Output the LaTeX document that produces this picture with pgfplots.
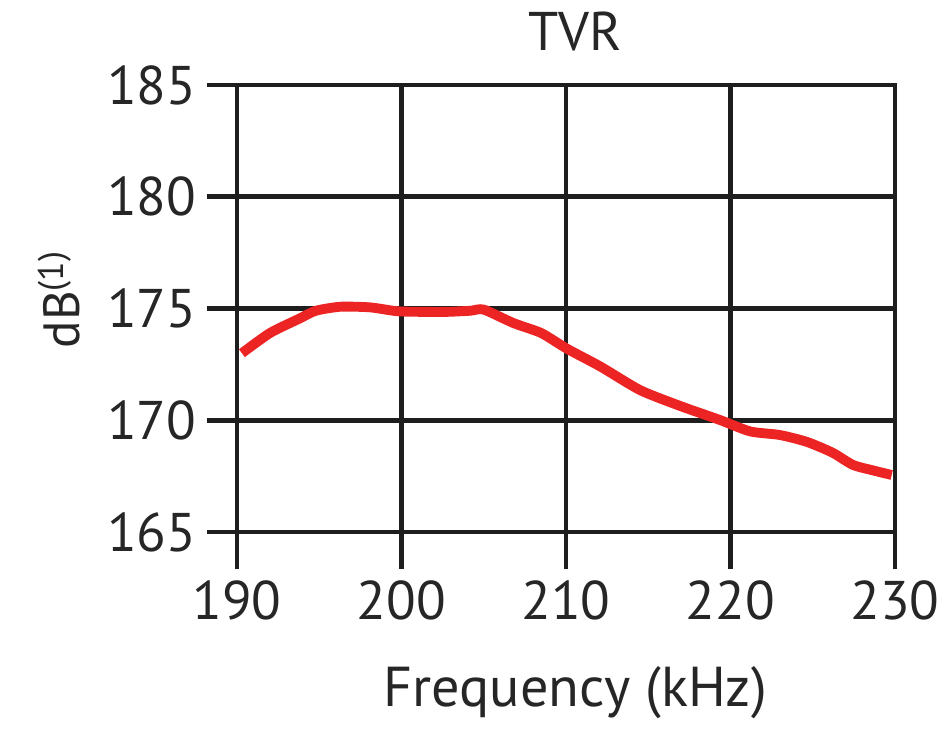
\documentclass[border=0pt]{standalone}
\usepackage{pgfplots}
\pgfplotsset{compat=1.18}
\usepackage{fontspec}
\setmainfont{PT Sans}
\definecolor{curvered}{HTML}{EC2424}
\definecolor{gridgray}{HTML}{1E1E1E}
\begin{document}
\begin{tikzpicture}
\path[use as bounding box] (-4.74cm,-4.08cm) rectangle (14.24cm,10.64cm);
\begin{axis}[
  at={(0,0)}, anchor=south west,
  width=13.16cm, height=8.94cm, scale only axis,
  xmin=190, xmax=230, ymin=165, ymax=185,
  xtick={190,200,210,220,230}, ytick={165,170,175,180,185},
  tick pos=left,
  grid=major,
  major grid style={line width=2.6pt, color=gridgray},
  axis line style={line width=2.6pt, color=gridgray},
  tick align=outside,
  major tick length=0.74cm,
  xtick style={line width=2.6pt, color=gridgray},
  ytick style={line width=2.6pt, color=gridgray, xshift=0.14cm},
  /pgf/number format/assume math mode=true,
  /pgf/number format/set thousands separator={},
  ticklabel style={font=\fontsize{31}{34}\selectfont, text=black!85},
  xticklabel style={yshift=-0.12cm},
  yticklabel style={xshift=0.05cm},
  title={TVR},
  title style={at={(axis description cs:0.514,1.095)}, anchor=center, font=\fontsize{31}{34}\selectfont, text=black!85},
  xlabel={Frequency (kHz)},
  ylabel={dB\textsuperscript{(1)}},
  every axis x label/.style={at={(axis description cs:0.514,-0.36)}, anchor=center, font=\fontsize{32}{35}\selectfont, text=black!85},
  every axis y label/.style={at={(axis description cs:-0.27,0.52)}, anchor=center, rotate=90, font=\fontsize{29}{32}\selectfont, text=black!85},
]
\addplot[curvered, line width=5.6pt, smooth, tension=0.4] coordinates {
(190.3,173.0) (192.0,173.9) (193.8,174.55) (194.8,174.9) (196.3,175.08)
(198.1,175.05) (199.7,174.88) (201.1,174.85) (202.8,174.85) (204.2,174.9)
(205.0,174.95) (206.8,174.35) (208.5,173.9) (210.06,173.2) (212.1,172.4)
(214.5,171.35) (216.9,170.65) (219.4,170.0) (221.2,169.5) (223.0,169.34)
(224.65,169.03) (226.2,168.55) (227.45,168.0) (228.7,167.75) (229.8,167.55)
};
\end{axis}
\end{tikzpicture}
\end{document}
